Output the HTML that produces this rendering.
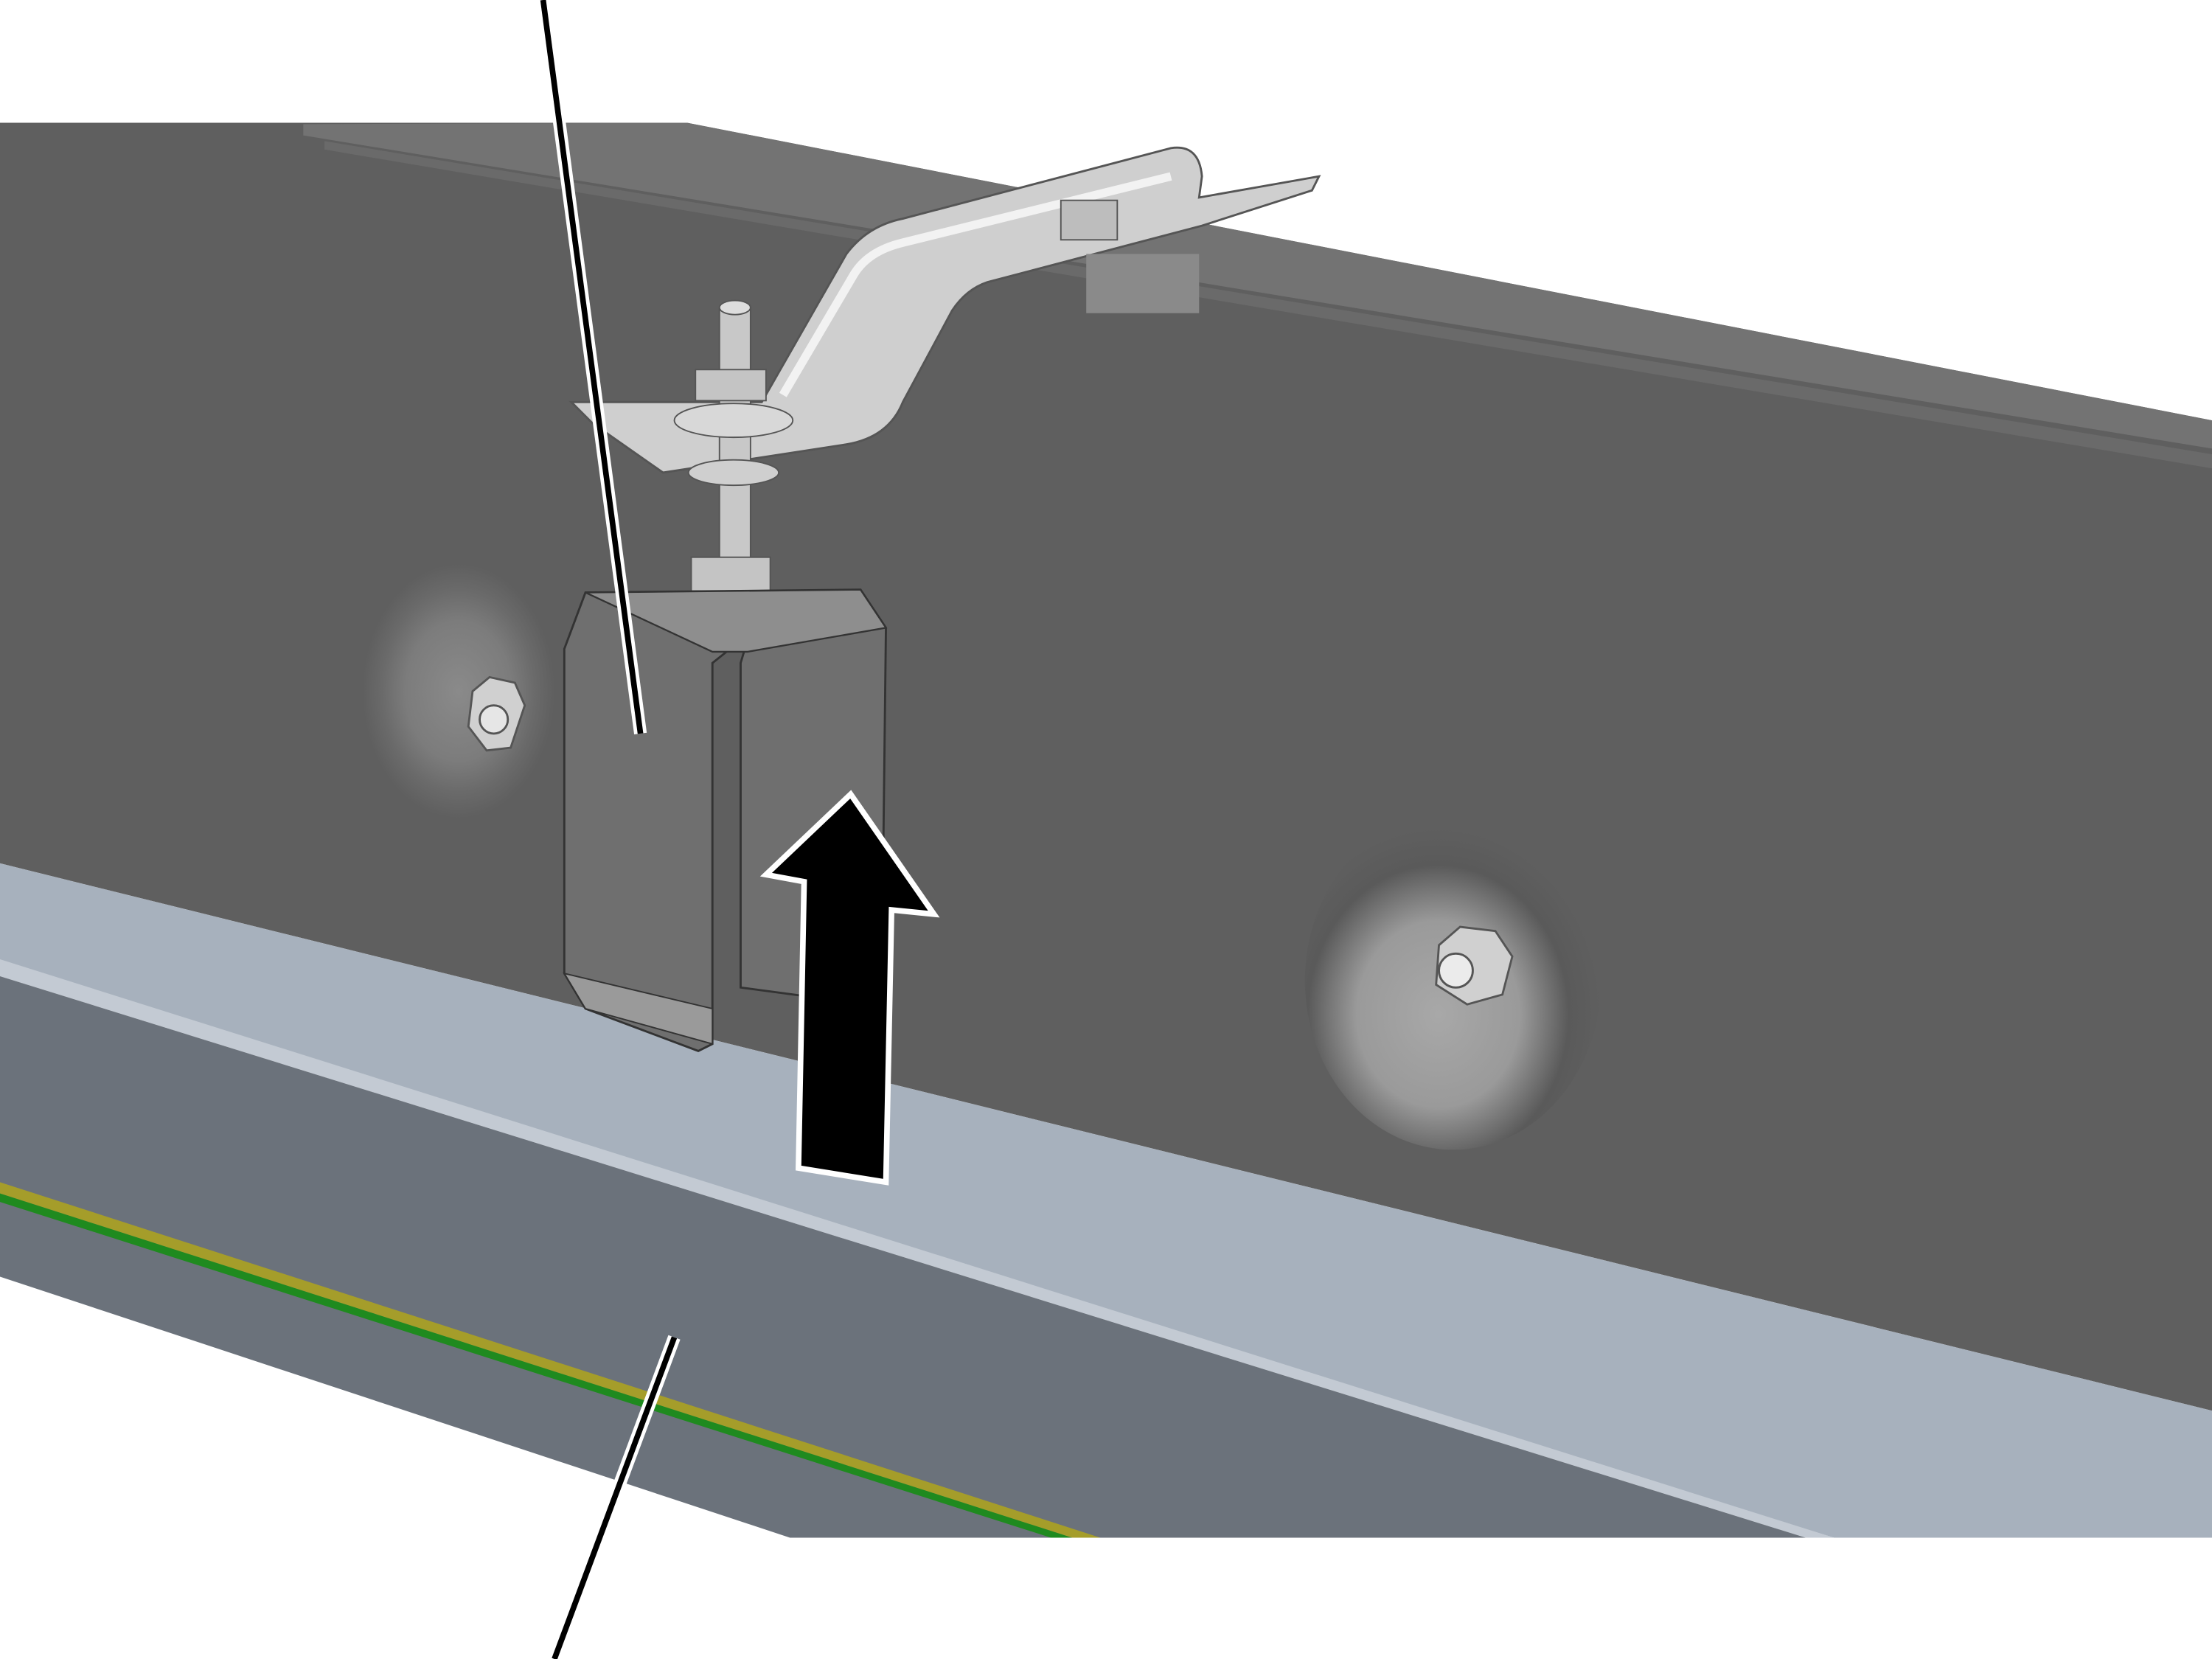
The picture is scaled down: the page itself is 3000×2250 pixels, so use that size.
<!DOCTYPE html>
<html><head><meta charset="utf-8"><style>
html,body{margin:0;padding:0;background:#fff;width:3000px;height:2250px;overflow:hidden}
svg{display:block}
</style></head><body>
<svg width="3000" height="2250" viewBox="0 0 1568 1176" preserveAspectRatio="none" xmlns="http://www.w3.org/2000/svg">
<defs>
<radialGradient id="d1" cx="0.5" cy="0.5" r="0.5">
<stop offset="0" stop-color="#8a8a8a"/><stop offset="0.55" stop-color="#7c7c7c"/><stop offset="0.8" stop-color="#6a6a6a"/><stop offset="1" stop-color="#5f5f5f"/>
</radialGradient>
<radialGradient id="d2" cx="0.45" cy="0.6" r="0.55">
<stop offset="0" stop-color="#a8a8a8"/><stop offset="0.5" stop-color="#9a9a9a"/><stop offset="0.8" stop-color="#5a5a5a"/><stop offset="1" stop-color="#5f5f5f"/>
</radialGradient>
</defs>
<rect width="1568" height="1176" fill="#fff"/>
<!-- dark beam face -->
<polygon points="0,87 487,87 1568,298 1568,1000 0,612" fill="#5f5f5f"/>
<!-- top strip -->
<polygon points="215,88 487,87 1568,298 1568,318 215,96" fill="#737373"/>
<polygon points="230,100 1568,322 1568,332 230,106" fill="#6a6a6a"/>
<!-- dimples -->
<ellipse cx="325" cy="490" rx="68" ry="90" fill="url(#d1)"/>
<ellipse cx="1030" cy="695" rx="105" ry="120" fill="url(#d2)"/>
<!-- nuts -->
<g fill="#d0d0d0" stroke="#555" stroke-width="1.5">
<polygon points="335,490 347,480 365,484 372,500 362,530 345,532 332,515"/>
<circle cx="350" cy="510" r="10" fill="#e6e6e6"/>
<polygon points="1020,670 1035,657 1060,660 1072,678 1065,705 1040,712 1018,698"/>
<circle cx="1032" cy="688" r="12" fill="#ebebeb"/>
</g>
<!-- light band -->
<polygon points="0,612 1568,1000 1568,1090 1300,1090 0,690" fill="#a7b1bd"/>
<polygon points="0,680 1300,1090 1280,1090 0,692" fill="#c3cad3"/>
<!-- lower face -->
<polygon points="0,692 1280,1090 560,1090 0,905" fill="#6b727b"/>
<polygon points="0,838 780,1090 760,1090 0,846" fill="#a59d2a"/>
<polygon points="0,846 760,1090 745,1090 0,852" fill="#1f8a1f"/>
<!-- hanger arm -->
<path d="M405,285 L540,285 L600,180 Q615,160 640,155 L830,105 Q850,102 852,125 L850,140 L935,125 L930,135 L852,160 L700,200 Q685,205 675,220 L640,285 Q630,310 600,315 L470,335 L420,300 Z" fill="#cfcfcf" stroke="#555" stroke-width="1.5"/>
<path d="M555,280 L605,195 Q615,178 640,172 L830,125" fill="none" stroke="#f2f2f2" stroke-width="6"/>
<rect x="770" y="180" width="80" height="42" fill="#8a8a8a"/>
<rect x="752" y="142" width="40" height="28" fill="#bdbdbd" stroke="#555"/>
<!-- rod, washers, nuts -->
<rect x="510" y="218" width="22" height="180" fill="#c8c8c8" stroke="#555"/>
<ellipse cx="521" cy="218" rx="11" ry="5" fill="#ddd" stroke="#555"/>
<rect x="493" y="262" width="50" height="22" fill="#c4c4c4" stroke="#555"/>
<ellipse cx="520" cy="298" rx="42" ry="12" fill="#d8d8d8" stroke="#555"/>
<ellipse cx="520" cy="335" rx="32" ry="9" fill="#cfcfcf" stroke="#555"/>
<rect x="490" y="395" width="56" height="24" fill="#c4c4c4" stroke="#555"/>
<!-- bracket -->
<path d="M400,460 L415,420 L610,418 L628,445 L625,700 L600,710 L525,700 L525,470 L528,460 L520,458 L505,470 L505,740 L495,745 L415,715 L400,690 Z" fill="#6f6f6f" stroke="#333" stroke-width="1.5"/>
<polygon points="415,420 610,418 628,445 530,462 505,462" fill="#8e8e8e" stroke="#333" stroke-width="1.2"/>
<polygon points="400,690 505,715 505,740 415,715" fill="#9a9a9a" stroke="#333" stroke-width="1"/>
<!-- arrow -->
<polygon points="603,563 662,648 632,645 628,838 566,828 570,625 543,620" fill="#000" stroke="#fff" stroke-width="4" stroke-linejoin="miter"/>
<!-- leader lines -->
<line x1="385" y1="0" x2="454" y2="520" stroke="#fff" stroke-width="9"/>
<line x1="385" y1="0" x2="454" y2="520" stroke="#000" stroke-width="4"/>
<line x1="478" y1="948" x2="393" y2="1176" stroke="#fff" stroke-width="9"/>
<line x1="478" y1="948" x2="393" y2="1176" stroke="#000" stroke-width="4"/>
</svg>
</body></html>
